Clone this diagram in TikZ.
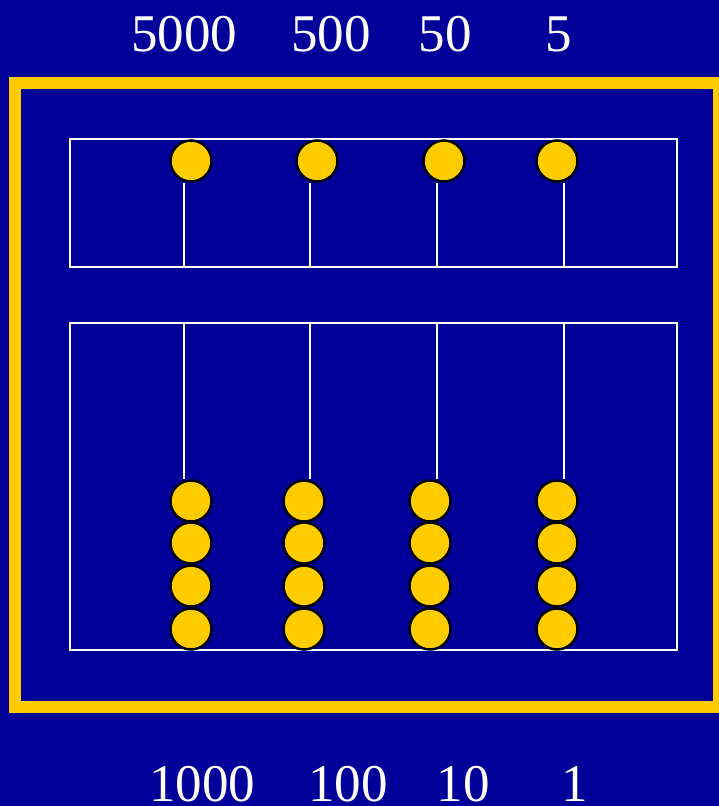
\documentclass[tikz,border=0pt]{standalone}
\usepackage{fontspec}
\setmainfont{Liberation Serif}
\usetikzlibrary{positioning}
\definecolor{abacusblue}{RGB}{0,0,153}
\definecolor{beadyellow}{RGB}{255,204,0}

\begin{document}
\begin{tikzpicture}[x=1pt,y=-1pt,
  bead/.style={circle,draw=black,line width=2.5pt,fill=beadyellow,minimum size=41pt,inner sep=0pt},
  panel/.style={draw=white,line width=2.5pt,minimum width=607pt,inner sep=0pt},
  rod/.style={white,line width=2.5pt},
  valuetext/.style={text=white,font=\fontsize{53}{60}\selectfont,anchor=base,inner sep=0pt}
]
\useasboundingbox (0,0) rectangle (719,806);
\fill[abacusblue] (0,0) rectangle (719,806);

% outer frame
\draw[beadyellow,line width=12pt] (15,83) rectangle (719,707);

% the two panels
\node[panel,minimum height=128pt] (upper) at (373.5,203)   {};
\node[panel,minimum height=327pt] (lower) at (373.5,486.5) {};

% upper beads (fives)
\node[bead] (u1) at (191,161) {};
\node[bead] (u2) at (317,161) {};
\node[bead] (u3) at (444,161) {};
\node[bead] (u4) at (557,161) {};

% lower beads (ones)
\node[bead] (a1) at (191,501) {};
\node[bead] (a2) at (191,543) {};
\node[bead] (a3) at (191,586) {};
\node[bead] (a4) at (191,629) {};
\node[bead] (b1) at (304,501) {};
\node[bead] (b2) at (304,543) {};
\node[bead] (b3) at (304,586) {};
\node[bead] (b4) at (304,629) {};
\node[bead] (c1) at (430,501) {};
\node[bead] (c2) at (430,543) {};
\node[bead] (c3) at (430,586) {};
\node[bead] (c4) at (430,629) {};
\node[bead] (d1) at (557,501) {};
\node[bead] (d2) at (557,543) {};
\node[bead] (d3) at (557,586) {};
\node[bead] (d4) at (557,629) {};

% rods
\draw[rod] (u1.south -| 184,0) -- (upper.south -| 184,0);
\draw[rod] (u2.south -| 310,0) -- (upper.south -| 310,0);
\draw[rod] (u3.south -| 437,0) -- (upper.south -| 437,0);
\draw[rod] (u4.south -| 564,0) -- (upper.south -| 564,0);
\draw[rod] (lower.north -| 184,0) -- (a1.north -| 184,0);
\draw[rod] (lower.north -| 310,0) -- (b1.north -| 310,0);
\draw[rod] (lower.north -| 437,0) -- (c1.north -| 437,0);
\draw[rod] (lower.north -| 564,0) -- (d1.north -| 564,0);

% place values
\node[valuetext] (v5000) at (184,51) {5000};
\node[valuetext] (v500)  at (331,51) {500};
\node[valuetext] (v50)   at (445,51) {50};
\node[valuetext] (v5)    at (559,51) {5};
\node[valuetext] (v1000) at (202,801) {1000};
\node[valuetext] (v100)  at (348,801) {100};
\node[valuetext] (v10)   at (463,801) {10};
\node[valuetext] (v1)    at (575,801) {1};
\end{tikzpicture}
\end{document}
